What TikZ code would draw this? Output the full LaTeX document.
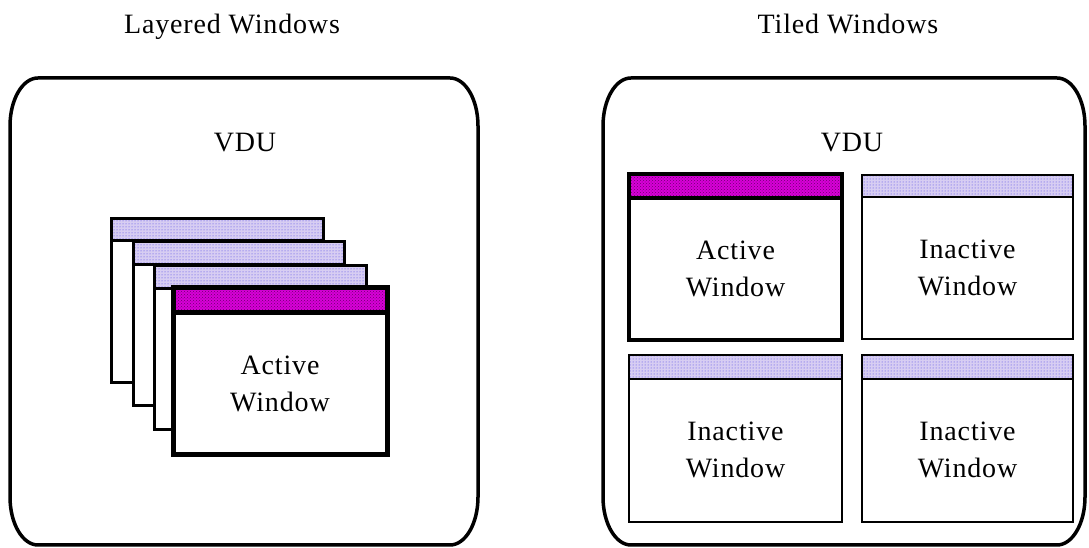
\documentclass[tikz,border=0pt]{standalone}
\usepackage{fontspec}
\setmainfont{Liberation Serif}
\newfontfamily\lblfont[LetterSpace=3]{Liberation Serif}
\usetikzlibrary{patterns}
\definecolor{actmag}{RGB}{215,0,215}
\definecolor{actdot}{RGB}{110,0,110}
\definecolor{inlav}{RGB}{215,205,242}
\definecolor{indot}{RGB}{70,60,230}
\tikzset{
  frame/.style={line width=3.5pt, draw=black},
  actbar/.style={preaction={fill=actmag}, pattern=crosshatch dots, pattern color=actdot},
  inbar/.style={preaction={fill=inlav}, pattern=dots, pattern color=indot},
  actline/.style={line width=4.5pt, line join=miter},
  backline/.style={line width=3pt, line join=miter},
  thinline/.style={line width=2pt, line join=miter},
  lbl/.style={font=\lblfont\fontsize{28}{37}\selectfont, align=center, inner sep=0pt}
}
% #1 x1, #2 ybottom, #3 x2, #4 ytop, #5 ytitle, #6 bar style, #7 line style
\newcommand\winbox[7]{%
  \fill[white] (#1,#2) rectangle (#3,#4);
  \path[#6] (#1,#5) rectangle (#3,#4);
  \draw[#7] (#1,#2) rectangle (#3,#4) (#1,#5) -- (#3,#5);
}
% #1 x1, #2 y1 bottom, #3 x2, #4 y2 top
\newcommand\vduframe[4]{%
  \draw[frame] ({#1+28},#4) -- ({#3-28},#4)
    arc[start angle=90, end angle=0, x radius=28, y radius=48]
    -- (#3,{#2+48})
    arc[start angle=0, end angle=-90, x radius=28, y radius=48]
    -- ({#1+28},#2)
    arc[start angle=270, end angle=180, x radius=28, y radius=48]
    -- (#1,{#4-48})
    arc[start angle=180, end angle=90, x radius=28, y radius=48]
    -- cycle;
}
\begin{document}
\begin{tikzpicture}[x=1pt,y=1pt]
\fill[white] (0,0) rectangle (1089,548);
\useasboundingbox (0,0) rectangle (1089,548);

% titles
\node[lbl, anchor=base] (tlay) at (232,514) {Layered Windows};
\node[lbl, anchor=base] (ttil) at (848,514) {Tiled Windows};

% frames
\vduframe{10}{3}{478}{470}
\vduframe{603}{3}{1085}{470}

\node[lbl, anchor=base] (vdul) at (245,396) {VDU};
\node[lbl, anchor=base] (vdur) at (852,396) {VDU};

% layered windows
\winbox{111}{165}{323}{329}{307}{inbar}{backline}
\winbox{133}{142}{344}{306}{283}{inbar}{backline}
\winbox{154}{118}{366}{282}{259}{inbar}{backline}
\winbox{173}{93}{387}{260}{235}{actbar}{line width=5pt, line join=miter}
\node[lbl] (lact) at (280,164) {Active\\Window};

% tiled windows
\winbox{629}{208}{842}{374}{350}{actbar}{actline}
\winbox{862}{209}{1073}{373}{351}{inbar}{thinline}
\winbox{629}{26}{842}{193}{169}{inbar}{thinline}
\winbox{862}{26}{1073}{193}{169}{inbar}{thinline}
\node[lbl] (tact) at (735.5,279) {Active\\Window};
\node[lbl] (tin1) at (967.5,280) {Inactive\\Window};
\node[lbl] (tin2) at (735.5,98) {Inactive\\Window};
\node[lbl] (tin3) at (967.5,98) {Inactive\\Window};
\end{tikzpicture}
\end{document}
